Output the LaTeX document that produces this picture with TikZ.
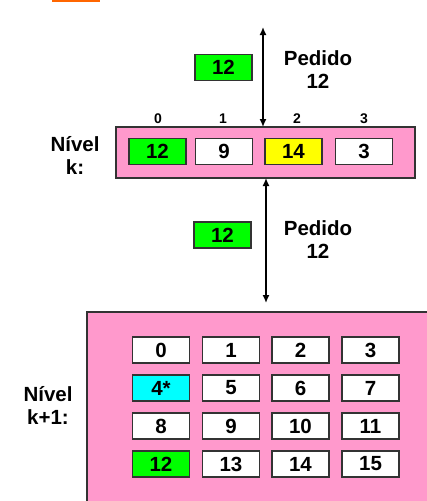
\documentclass[tikz,border=0pt]{standalone}
\usepackage{fontspec}
\setmainfont{Liberation Sans}
\newfontfamily\arialbold{Liberation Sans Bold}
\usetikzlibrary{arrows.meta}
\definecolor{pinkbg}{HTML}{FF99CC}
\definecolor{hitgreen}{HTML}{00FF00}
\definecolor{hityellow}{HTML}{FFFF00}
\definecolor{hitcyan}{HTML}{00FFFF}
\definecolor{topbar}{HTML}{FF6600}

\begin{document}
\begin{tikzpicture}
[every node/.style={inner sep=0pt, font=\arialbold\fontsize{20.5}{23}\selectfont},
 cell/.style={draw=black!80, line width=1.2pt, fill=white, minimum width=57pt, minimum height=26pt},
 idx/.style={font=\arialbold\fontsize{14}{16}\selectfont},
 lbl/.style={align=center}]
\useasboundingbox (0pt, 0pt) rectangle (427pt, -501pt);
\fill [topbar] (52pt, 0pt) rectangle (100pt, -1.5pt);
% level k+1 background (cut off by the page)
\fill [pinkbg] (87pt, -312pt) rectangle (427pt, -501pt);
\draw [line width=1.2pt, color=black!80] (87pt, -501pt) -- (87pt, -312pt) -- (427pt, -312pt);
% level k
\node (levelk) [fill=pinkbg, draw=black!80, line width=1.2pt, minimum width=299pt, minimum height=51pt] at (265.5pt, -152.5pt) {};
\node (nivk) [lbl] at (75pt, -155pt) {Nível\\k:};
\node (i0) [idx] at (158pt, -119pt) {0};
\node (i1) [idx] at (223pt, -119pt) {1};
\node (i2) [idx] at (297pt, -119pt) {2};
\node (i3) [idx] at (364pt, -119pt) {3};
\node (k0) [cell, fill=hitgreen] at (157.5pt, -151.5pt) {12};
\node (k1) [cell] at (224pt, -151.5pt) {9};
\node (k2) [cell, fill=hityellow] at (293.5pt, -151.5pt) {14};
\node (k3) [cell] at (364pt, -151.5pt) {3};
% requests
\node (req1) [cell, fill=hitgreen] at (223.5pt, -67.5pt) {12};
\node (ped1) [lbl] at (318pt, -70pt) {Pedido\\12};
\node (req2) [cell, fill=hitgreen] at (222.5pt, -235pt) {12};
\node (ped2) [lbl] at (318pt, -240pt) {Pedido\\12};
\coordinate (up1) at (263pt, -27pt);
\coordinate (dn1) at (263pt, -127pt);
\coordinate (up2) at (266pt, -178pt);
\coordinate (dn2) at (266pt, -303pt);
\draw [line width=1.5pt, <->, >={Latex[length=8pt, width=7pt]}] (up1) to (dn1);
\draw [line width=1.5pt, <->, >={Latex[length=8pt, width=7pt]}] (up2) to (dn2);
% level k+1
\node (nivk1) [lbl] at (48pt, -405pt) {Nível\\k+1:};
\node (m0) [cell] at (161pt, -350pt) {0};
\node (m1) [cell] at (231pt, -350pt) {1};
\node (m2) [cell] at (300.5pt, -350pt) {2};
\node (m3) [cell] at (370.5pt, -350pt) {3};
\node (m4) [cell, fill=hitcyan] at (161pt, -388pt) {4*};
\node (m5) [cell] at (231pt, -388pt) {5};
\node (m6) [cell] at (300.5pt, -388pt) {6};
\node (m7) [cell] at (370.5pt, -388pt) {7};
\node (m8) [cell] at (161pt, -426pt) {8};
\node (m9) [cell] at (231pt, -426pt) {9};
\node (m10) [cell] at (300.5pt, -426pt) {10};
\node (m11) [cell] at (370.5pt, -426pt) {11};
\node (m12) [cell, fill=hitgreen] at (161pt, -464pt) {12};
\node (m13) [cell] at (231pt, -464pt) {13};
\node (m14) [cell] at (300.5pt, -464pt) {14};
\node (m15) [cell] at (370.5pt, -464pt) {15};
\end{tikzpicture}
\end{document}
